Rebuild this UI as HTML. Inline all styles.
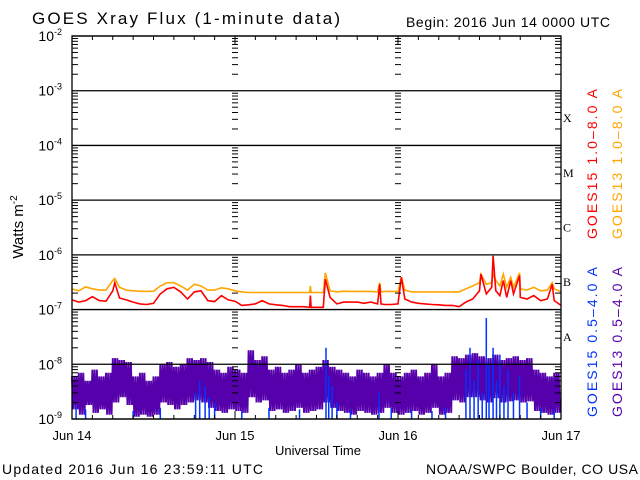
<!DOCTYPE html>
<html><head><meta charset="utf-8"><style>
body{margin:0;background:#fff;}
svg{display:block;font-family:"Liberation Sans",sans-serif;}
</style></head><body>
<svg id="chart" width="640" height="480" viewBox="0 0 640 480">
<text x="32" y="24" font-size="17" textLength="308" lengthAdjust="spacing">GOES Xray Flux (1-minute data)</text>
<text x="406" y="27" font-size="14" textLength="204" lengthAdjust="spacing">Begin:  2016 Jun 14 0000 UTC</text>
<text transform="translate(23,227) rotate(-90)" text-anchor="middle" font-size="15">Watts m<tspan dy="-6" font-size="10">-2</tspan></text>
<text x="318" y="455" text-anchor="middle" font-size="13">Universal Time</text>
<text x="2" y="474" font-size="14" textLength="261" lengthAdjust="spacing">Updated 2016 Jun 16 23:59:11 UTC</text>
<text x="426" y="474" font-size="14" textLength="212" lengthAdjust="spacing">NOAA/SWPC Boulder, CO USA</text>
<text transform="translate(597,239) rotate(-90)" font-size="14" textLength="150" lengthAdjust="spacing" fill="#ff0000">GOES15 1.0–8.0 A</text>
<text transform="translate(622,239) rotate(-90)" font-size="14" textLength="150" lengthAdjust="spacing" fill="#ffa500">GOES13 1.0–8.0 A</text>
<text transform="translate(597,417) rotate(-90)" font-size="14" textLength="150" lengthAdjust="spacing" fill="#0033ff">GOES15 0.5–4.0 A</text>
<text transform="translate(622,417) rotate(-90)" font-size="14" textLength="150" lengthAdjust="spacing" fill="#5500aa">GOES13 0.5–4.0 A</text>
<g id="axes"></g>
<g id="series"></g>
<g id="frame"></g>
</svg>
<script>
const dayLabels=["Jun 14","Jun 15","Jun 16","Jun 17"];
const decadeExps=[-2,-3,-4,-5,-6,-7,-8,-9];
const classLabels=["X","M","C","B","A"];
const classExps=[-3,-4,-5,-6,-7];
const longTimes=[0,1,2,3,4,5,6,6.3,7,8,9,10,11,12,13,14,15,16,17,18,19,20,21,22,23,24,25,26,27,28,29,30,31,32,33,34,35,35.1,35.2,36,37,37.3,38,39,40,41,42,43,44,45,45.3,45.5,46,47,48,48.5,49,50,51,52,53,54,55,56,57,58,59,60,60.2,61,61.8,62,62.4,63,63.5,64,64.6,65,65.9,66,67,68,69,70,70.7,71,72];
const goes15Long=[1.5e-7,1.37e-7,1.46e-7,1.72e-7,1.46e-7,1.42e-7,2.2e-7,3.1e-7,1.63e-7,1.5e-7,1.37e-7,1.27e-7,1.24e-7,1.3e-7,1.93e-7,2.4e-7,2.55e-7,2.1e-7,1.56e-7,2.1e-7,2.2e-7,1.46e-7,1.4e-7,1.8e-7,1.5e-7,1.42e-7,1.19e-7,1.22e-7,1.27e-7,1.46e-7,1.27e-7,1.22e-7,1.19e-7,1.13e-7,1.13e-7,1.13e-7,1.1e-7,1.8e-7,1.1e-7,1.1e-7,1.1e-7,3.6e-7,1.67e-7,1.27e-7,1.37e-7,1.37e-7,1.37e-7,1.3e-7,1.37e-7,1.27e-7,2.9e-7,1.27e-7,1.24e-7,1.24e-7,1.27e-7,3.9e-7,1.56e-7,1.37e-7,1.3e-7,1.27e-7,1.24e-7,1.22e-7,1.19e-7,1.19e-7,1.13e-7,1.37e-7,1.56e-7,2.2e-7,4.45e-7,1.93e-7,2.55e-7,9.6e-7,2.2e-7,1.8e-7,3.4e-7,1.67e-7,3.4e-7,1.93e-7,4.2e-7,1.67e-7,1.56e-7,1.8e-7,1.46e-7,1.56e-7,2.9e-7,1.46e-7,1.19e-7];
const goes13Long=[2.38e-7,2.2e-7,2.6e-7,2.4e-7,2.27e-7,2.27e-7,3.4e-7,3.7e-7,2.55e-7,2.27e-7,2.2e-7,2.17e-7,2.15e-7,2.17e-7,2.7e-7,3.1e-7,3.1e-7,2.7e-7,2.27e-7,2.9e-7,2.7e-7,2.27e-7,2.27e-7,2.5e-7,2.4e-7,2.2e-7,2.1e-7,2.05e-7,2.05e-7,2.05e-7,2.05e-7,2.05e-7,2.05e-7,2.05e-7,2.05e-7,2.05e-7,2.05e-7,2.7e-7,2.05e-7,2.05e-7,2.05e-7,4.7e-7,2.2e-7,2.1e-7,2.17e-7,2.15e-7,2.15e-7,2.15e-7,2.15e-7,2.1e-7,3.1e-7,2.1e-7,2.15e-7,2.15e-7,2.15e-7,3.9e-7,2.27e-7,2.1e-7,2.1e-7,2.1e-7,2.1e-7,2.1e-7,2.1e-7,2.1e-7,2.1e-7,2.4e-7,2.7e-7,3.1e-7,4.45e-7,2.9e-7,3.1e-7,4.45e-7,3.4e-7,2.7e-7,4.45e-7,2.55e-7,3.9e-7,2.55e-7,4.7e-7,2.4e-7,2.27e-7,2.55e-7,2.2e-7,2.27e-7,3.1e-7,2.4e-7,2.1e-7];
const goes13ShortHigh=[6e-9,7e-9,5e-9,8e-9,6e-9,7e-9,1.3e-8,1.2e-8,1.1e-8,6e-9,7e-9,5e-9,6e-9,1e-8,1.1e-8,9e-9,1e-8,1.3e-8,1.2e-8,1.3e-8,1.1e-8,8e-9,7e-9,9e-9,8e-9,7e-9,1.8e-8,1.2e-8,1.4e-8,8e-9,9e-9,7e-9,8e-9,1e-8,7e-9,8e-9,9e-9,1.2e-8,9e-9,8e-9,7e-9,6e-9,8e-9,7e-9,6e-9,7e-9,1e-8,7e-9,6e-9,7e-9,8e-9,6e-9,7e-9,1e-8,6e-9,7e-9,1.4e-8,1.3e-8,1.5e-8,1.6e-8,1.4e-8,1.3e-8,1.5e-8,1.2e-8,1.3e-8,1.4e-8,1.2e-8,1.3e-8,8e-9,7e-9,6e-9,7e-9];
const goes13ShortLow=[1.5e-9,1.2e-9,1.8e-9,1.3e-9,1.5e-9,1.2e-9,2e-9,2.5e-9,1.8e-9,1.1e-9,1.2e-9,1.1e-9,1.2e-9,2e-9,1.8e-9,1.5e-9,1.8e-9,2e-9,2.2e-9,2e-9,1.6e-9,1.4e-9,1.3e-9,1.5e-9,1.4e-9,1.3e-9,2.5e-9,2e-9,2.2e-9,1.4e-9,1.5e-9,1.3e-9,1.4e-9,1.6e-9,1.3e-9,1.4e-9,1.5e-9,2e-9,1.6e-9,1.4e-9,1.3e-9,1.2e-9,1.4e-9,1.3e-9,1.2e-9,1.3e-9,1.6e-9,1.3e-9,1.2e-9,1.3e-9,1.4e-9,1.2e-9,1.3e-9,1.6e-9,1.2e-9,1.3e-9,2.2e-9,2e-9,2.5e-9,2.5e-9,2.2e-9,2e-9,2.4e-9,2e-9,2.1e-9,2.2e-9,2e-9,2.1e-9,1.4e-9,1.3e-9,1.2e-9,1.3e-9];
const blueTimes=[0.6,2,9,13,18.2,18.8,19.6,20.2,21,25,29,33.5,37.4,37.8,38.3,39,41,45.2,47,50,53,55,58,58.6,59.2,59.8,60.4,61,61.4,62,62.5,63,63.6,64.2,65,65.9,67,69,71];
const goes15Short=[1.8e-9,1.5e-9,1.4e-9,1.6e-9,3e-9,5e-9,4e-9,2.5e-9,2e-9,1.4e-9,1.6e-9,1.5e-9,2e-8,6e-9,4e-9,2e-9,1.5e-9,3e-9,1.6e-9,1.5e-9,1.4e-9,1.6e-9,8e-9,2e-8,5e-9,1.2e-8,3e-9,7e-8,1e-8,2e-8,5e-9,1.5e-8,4e-9,8e-9,3e-9,6e-9,2e-9,1.6e-9,1.5e-9];

const NS="http://www.w3.org/2000/svg";
const L=72,R=561,T=36,B=419,H0=0,H1=72;
const xs=h=>L+(h-H0)/(H1-H0)*(R-L);
const ys=v=>T+(-2-Math.log10(v))/7*(B-T);
const ax=document.getElementById('axes'),se=document.getElementById('series'),fr=document.getElementById('frame');
function mk(tag,attrs,parent){const e=document.createElementNS(NS,tag);for(const k in attrs)e.setAttribute(k,attrs[k]);parent.appendChild(e);return e;}

decadeExps.forEach(ex=>{
  const y=ys(Math.pow(10,ex));
  const ln=mk('line',{x1:L,x2:R,y1:y,y2:y,stroke:'#000','stroke-width':1.3},fr);
  
  
  const t=mk('text',{x:L-10,y:y+5,'text-anchor':'end','font-size':14},ax);
  
  
  t.textContent='10';
  const sp=mk('tspan',{dy:-6,'font-size':9},t);sp.textContent=String(ex);
});
for(let ex=-9;ex<-2;ex++){
  for(let m=2;m<=9;m++){
    const y=ys(m*Math.pow(10,ex));
    [[L,L+6],[R-6,R],[xs(24)-3,xs(24)+3],[xs(48)-3,xs(48)+3]].forEach(p=>{
      const tk=mk('line',{x1:p[0],x2:p[1],y1:y,y2:y,stroke:'#000','stroke-width':1},fr);
      
      
    });
  }
}
for(let h=3;h<72;h+=3){
  const x=xs(h),big=h%24===0;
  [[T,T+(big?8:4)],[B-(big?8:4),B]].forEach(p=>{
    const tk=mk('line',{x1:x,x2:x,y1:p[0],y2:p[1],stroke:'#000','stroke-width':1},fr);
    
    
  });
}
dayLabels.forEach((d,i)=>{
  const t=mk('text',{x:xs(i*24),y:440,'text-anchor':'middle','font-size':13},ax);
  
  
  t.textContent=d;
});
classLabels.forEach((c,i)=>{
  const y=(ys(Math.pow(10,classExps[i]))+ys(Math.pow(10,classExps[i]-1)))/2;
  const t=mk('text',{x:563,y:y+4,'font-size':12,'font-family':'Liberation Serif,serif'},ax);
  
  
  t.textContent=c;
});
let pp=[];
goes13ShortHigh.forEach((hv,i)=>{
  const lv=goes13ShortLow[i];
  for(let k=0;k<6;k++){const h=i+k/6;pp.push(xs(h).toFixed(1)+','+ys(k%2?lv:hv).toFixed(1));}
});
const pur=mk('polyline',{points:pp.join(' '),fill:'none',stroke:'#5500aa','stroke-width':1.9},se);


blueTimes.forEach((h,i)=>{
  const b=mk('line',{x1:xs(h),x2:xs(h),y1:B,y2:ys(goes15Short[i]),stroke:'#0033ff','stroke-width':1.5},se);
  
  
});
function line(vals,color,name){
  const pts=longTimes.map((h,i)=>xs(h).toFixed(1)+','+ys(vals[i]).toFixed(1)).join(' ');
  const p=mk('polyline',{points:pts,fill:'none',stroke:color,'stroke-width':1.6},se);
  
  
}
line(goes13Long,'#ffa500','goes13-long-series');
line(goes15Long,'#ff0000','goes15-long-series');
const box=mk('rect',{x:L,y:T,width:R-L,height:B-T,fill:'none',stroke:'#000','stroke-width':1.3},fr);


</script>
</body></html>
